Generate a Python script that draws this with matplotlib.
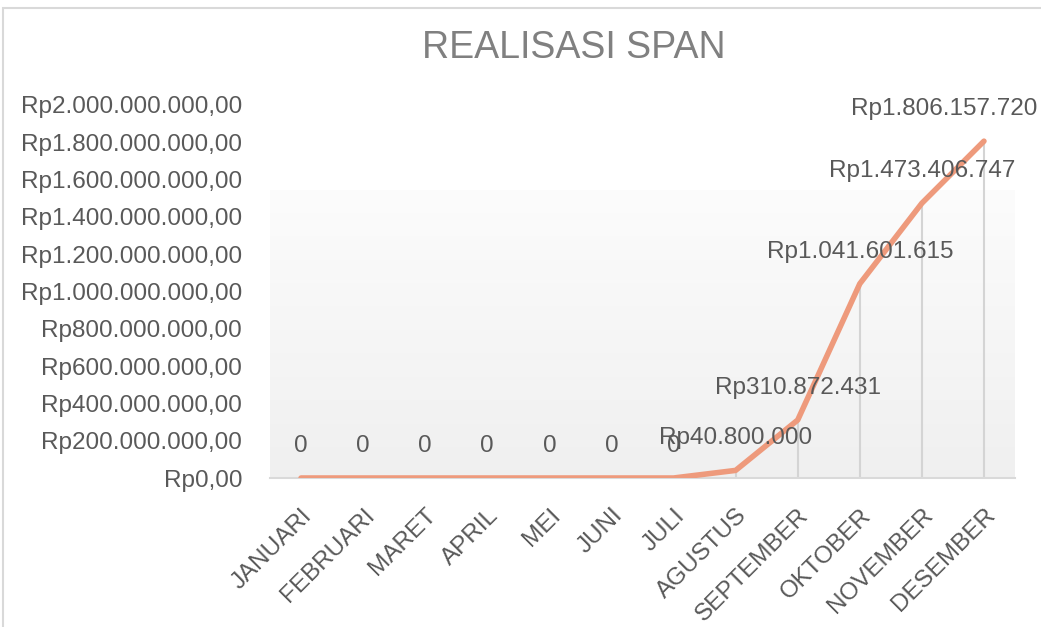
import matplotlib
matplotlib.use("Agg")
import matplotlib.pyplot as plt
import numpy as np
from matplotlib.patches import Rectangle

plt.rcParams['font.family'] = ['Liberation Sans', 'DejaVu Sans']

months = ["JANUARI", "FEBRUARI", "MARET", "APRIL", "MEI", "JUNI", "JULI",
          "AGUSTUS", "SEPTEMBER", "OKTOBER", "NOVEMBER", "DESEMBER"]
values = [0, 0, 0, 0, 0, 0, 0, 40800000, 310872431, 1041601615, 1473406747, 1806157720]
yticks = [0, 200e6, 400e6, 600e6, 800e6, 1000e6, 1200e6, 1400e6, 1600e6, 1800e6, 2000e6]
title = "REALISASI SPAN"

def rp_tick(v):
    s = f"{int(round(v)):,}".replace(",", ".")
    return f"Rp{s},00"

def rp_label(v):
    if v == 0:
        return "0"
    return "Rp" + f"{int(round(v)):,}".replace(",", ".")

W, H = 1041, 627
fig = plt.figure(figsize=(W / 100, H / 100), dpi=100)

# outer chart border (only top and left edges are visible)
fig.patches.append(Rectangle((3 / W, -0.2), 1.2, 1.2 - 8 / H, transform=fig.transFigure,
                             fill=False, edgecolor='#d9d9d9', linewidth=1.5))

left, right = 270 / W, 1015 / W
bottom, top = 1 - 478 / H, 1 - 105 / H
ax = fig.add_axes([left, bottom, right - left, top - bottom])

x = np.arange(len(months))
ax.set_xlim(-0.5, len(months) - 0.5)
ax.set_ylim(0, 2000e6)

# gradient plot area fill
grad_top = (478 - 190) / (478 - 105)
g = np.linspace(0, 1, 256).reshape(-1, 1)
c_top = np.array([0.988, 0.988, 0.988])
c_bot = np.array([0.94, 0.94, 0.94])
img = c_bot + (c_top - c_bot) * g
img = np.repeat(img[:, None, :], 2, axis=1).reshape(256, 2, 3)
ax.imshow(img, extent=[0, 1, 0, grad_top], transform=ax.transAxes, origin='lower',
          aspect='auto', zorder=0)

# drop lines
for xi, v in zip(x, values):
    ax.plot([xi, xi], [0, v], color='#d4d4d4', linewidth=1.5, zorder=1)

ax.plot(x, values, color='#EE9A7C', linewidth=4, solid_capstyle='round',
        solid_joinstyle='round', zorder=3)

# data labels
for xi, v in zip(x, values):
    dx = -40 if xi == len(months) - 1 else 0
    ax.annotate(rp_label(v), (xi, v), xytext=(dx, 32), textcoords='offset pixels',
                ha='center', va='center', fontsize=17.5, color='#595959', zorder=4)

ax.set_yticks(yticks)
ax.set_yticklabels([rp_tick(t) for t in yticks])
ax.set_xticks(x)
ax.set_xticklabels(months, rotation=45, ha='right', rotation_mode='anchor')
ax.tick_params(axis='y', length=0, pad=20, labelsize=17.5, labelcolor='#595959')
ax.tick_params(axis='x', length=0, pad=19, labelsize=17.5, labelcolor='#595959')

for s in ['top', 'right', 'left']:
    ax.spines[s].set_visible(False)
ax.spines['bottom'].set_color('#d9d9d9')
ax.spines['bottom'].set_linewidth(1.5)
ax.set_facecolor('none')

fig.text(574 / W, 1 - 48 / H, title, ha='center', va='center', fontsize=27, color='#808080')

fig.savefig("out.png", dpi=100)
